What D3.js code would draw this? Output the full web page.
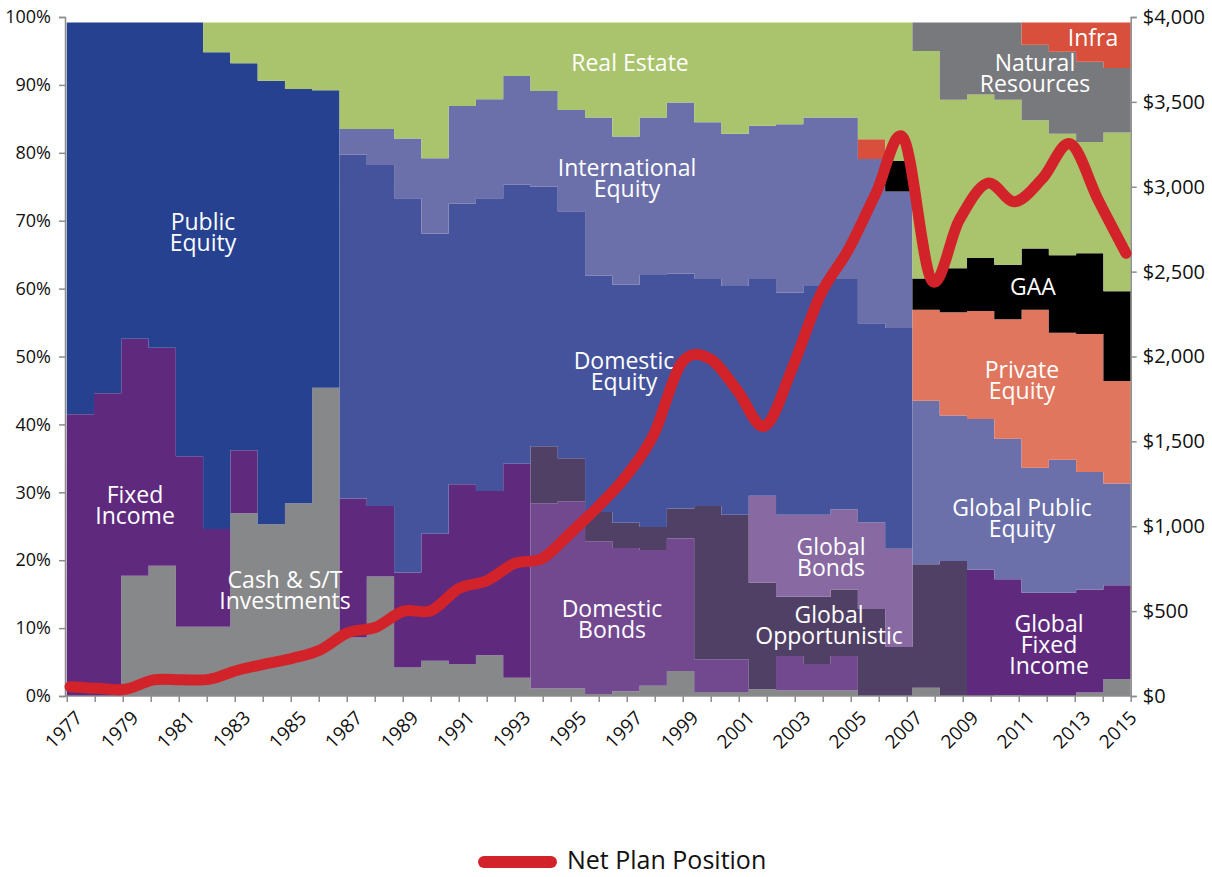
<!DOCTYPE html>
<html><head><meta charset="utf-8">
<script src="https://cdn.jsdelivr.net/npm/d3@7"></script>
<style>
body{margin:0;background:#fff}
svg{display:block}
text{font-family:"Open Sans",sans-serif}
</style>
</head><body>
<svg id="chart" width="1212" height="877"></svg>
<script>
// ---- data ----
const years = [1977,1978,1979,1980,1981,1982,1983,1984,1985,1986,1987,1988,1989,1990,1991,1992,1993,1994,1995,1996,1997,1998,1999,2000,2001,2002,2003,2004,2005,2006,2007,2008,2009,2010,2011,2012,2013,2014,2015];
const tickLabels = ["1977","1979","1981","1983","1985","1987","1989","1991","1993","1995","1997","1999","2001","2003","2005","2007","2009","2011","2013","2015"];

const cash            = [0,0,17.7,19.2,10.2,10.2,26.9,25.3,28.4,45.4, 8.6,17.6,4.2,5.2,4.7,6.0,2.7,1.1,1.1,0.3,0.7,1.5,3.7,0.6,0.6,1.0,0.8,0.8,0.8,0,0, 1.2,0,0,0.1,0,0,0.5,2.5];
const fixedIncome     = [41.5,44.6,34.9,32.1,25.1,14.4,9.3,0,0,0, 20.5,10.4,14.0,18.7,26.5,24.2,31.5,0,0,0,0,0,0,0,0,0,0,0,0,0,0, 0,0,18.6,17.1,15.2,15.2,15.2,13.8];
const domesticBonds   = [0,0,0,0,0,0,0,0,0,0, 0,0,0,0,0,0,0,27.3,27.6,22.5,21.1,20.0,19.5,4.8,4.8,0,5.1,3.9,5.1,0,0, 0,0,0,0,0,0,0,0];
const globalOpp       = [0,0,0,0,0,0,0,0,0,0, 0,0,0,0,0,0,0,8.4,6.3,4.3,3.7,3.4,4.4,22.6,21.3,15.7,8.7,9.9,9.8,12.8,7.2, 18.2,19.9,0,0,0,0,0,0];
const globalBonds     = [0,0,0,0,0,0,0,0,0,0, 0,0,0,0,0,0,0,0,0,0,0,0,0,0,0,12.8,12.1,12.1,11.8,12.8,14.5, 0,0,0,0,0,0,0,0];
const publicEquity    = [57.7,54.6,46.6,47.9,63.9,70.2,57.0,65.3,61.0,43.8, 0,0,0,0,0,0,0,0,0,0,0,0,0,0,0,0,0,0,0,0,0, 0,0,0,0,0,0,0,0];
const domesticEquity  = [0,0,0,0,0,0,0,0,0,0, 50.6,50.2,55.1,44.2,41.3,43.1,41.1,38.2,36.4,34.8,35.1,37.1,34.6,33.4,33.7,31.9,32.7,33.7,33.9,29.3,32.5, 0,0,0,0,0,0,0,0];
const intlEquity      = [0,0,0,0,0,0,0,0,0,0, 3.8,5.3,8.8,11.1,14.4,14.6,16.0,14.1,14.9,23.3,21.8,23.2,25.2,23.1,22.4,22.6,24.8,24.8,23.8,24.2,20.1, 24.1,21.4,22.2,20.7,18.4,19.6,17.3,15.0];
const privateEquity   = [0,0,0,0,0,0,0,0,0,0, 0,0,0,0,0,0,0,0,0,0,0,0,0,0,0,0,0,0,0,0,0, 13.4,15.2,15.9,17.6,23.3,18.7,20.3,15.1];
const gaa             = [0,0,0,0,0,0,0,0,0,0, 0,0,0,0,0,0,0,0,0,0,0,0,0,0,0,0,0,0,0,0,4.5, 4.6,6.5,7.8,8.0,9.0,11.4,11.9,13.2];
const infraEarly      = [0,0,0,0,0,0,0,0,0,0, 0,0,0,0,0,0,0,0,0,0,0,0,0,0,0,0,0,0,0,2.9,0, 0,0,0,0,0,0,0,0];
const realEstate      = [0,0,0,0,0,4.4,6.0,8.6,9.8,10.0, 15.7,15.7,17.1,20.0,12.3,11.3,7.9,10.1,12.9,14.0,16.8,14.0,11.8,14.7,16.4,15.2,15.0,14.0,14.0,17.2,20.4, 33.5,24.8,24.1,24.3,18.9,17.9,16.4,23.4];
const naturalResources= [0,0,0,0,0,0,0,0,0,0, 0,0,0,0,0,0,0,0,0,0,0,0,0,0,0,0,0,0,0,0,0, 4.2,11.4,10.6,11.4,11.1,12.1,11.8,9.5];
const infra           = [0,0,0,0,0,0,0,0,0,0, 0,0,0,0,0,0,0,0,0,0,0,0,0,0,0,0,0,0,0,0,0, 0,0,0,0,3.3,4.3,5.8,6.7];

const netPlanPosition = [55,45,40,95,96,98,150,188,222,271,373,405,500,503,634,679,781,811,958,1115,1292,1538,1960,1989,1803,1590,1935,2362,2627,2961,3285,2450,2804,3020,2912,3050,3252,2922,2608];

const seriesKeys = ["cash","fixedIncome","domesticBonds","globalOpp","globalBonds","publicEquity","domesticEquity","intlEquity","privateEquity","gaa","infraEarly","realEstate","naturalResources","infra"];
const seriesData = {cash,fixedIncome,domesticBonds,globalOpp,globalBonds,publicEquity,domesticEquity,intlEquity,privateEquity,gaa,infraEarly,realEstate,naturalResources,infra};
const colors = {cash:"#87888a",fixedIncome:"#5f2a7e",domesticBonds:"#72488f",globalOpp:"#514066",globalBonds:"#8869a2",publicEquity:"#25418f",domesticEquity:"#44539b",intlEquity:"#6b70aa",privateEquity:"#e0765e",gaa:"#000000",infraEarly:"#d84f3b",realEstate:"#aac36d",naturalResources:"#78797d",infra:"#d84f3b"};

const labels = [
  {t:["Public","Equity"], x:203, y:230},
  {t:["Fixed","Income"], x:135, y:503},
  {t:["Cash & S/T","Investments"], x:285, y:588},
  {t:["Real Estate"], x:630, y:71},
  {t:["International","Equity"], x:627, y:176},
  {t:["Domestic","Equity"], x:624, y:369},
  {t:["Domestic","Bonds"], x:612, y:617},
  {t:["Global","Bonds"], x:831, y:555},
  {t:["Global","Opportunistic"], x:829, y:623},
  {t:["Global Public","Equity"], x:1022, y:516},
  {t:["Global","Fixed","Income"], x:1049, y:632},
  {t:["Private","Equity"], x:1022, y:378},
  {t:["GAA"], x:1033, y:295},
  {t:["Natural","Resources"], x:1035, y:71},
  {t:["Infra"], x:1093, y:46}
];

// ---- scales ----
const svg = d3.select("#chart");
const x0 = 66.7, x1 = 1130.7;
const xBand = d3.scaleBand().domain(years).range([x0, x1]).padding(0);
const xTick = d3.scalePoint().domain(years).range([x0, x1]);
const xLine = d3.scalePoint().domain(years).range([70, 1126]);
const y = d3.scaleLinear().domain([0, 100]).range([696, 17]);
const yR = d3.scaleLinear().domain([0, 4000]).range([696, 17]);

// ---- stack ----
const table = years.map((yr, i) => {
  const row = {year: yr};
  seriesKeys.forEach(k => row[k] = seriesData[k][i]);
  return row;
});
const stacked = d3.stack().keys(seriesKeys)(table);

const g = svg.append("g");
stacked.forEach(s => {
  const pts = s.map((d, i) => ({x: xBand(years[i]), y0: d[0], y1: d[1]}));
  const last = s[s.length - 1];
  pts.push({x: x1, y0: last[0], y1: last[1]});
  const area = d3.area().x(d => d.x).y0(d => y(d.y0)).y1(d => y(d.y1)).curve(d3.curveStepAfter);
  g.append("path").attr("d", area(pts)).attr("fill", colors[s.key]).attr("stroke", "none");
});

// ---- axes ----
const axisColor = "#8c8c8c";
const left = svg.append("g").attr("transform", "translate(65,0)")
  .call(d3.axisLeft(y).tickValues(d3.range(0, 101, 10)).tickFormat(d => d + "%").tickSize(6).tickPadding(8));
const right = svg.append("g").attr("transform", `translate(${x1},0)`)
  .call(d3.axisRight(yR).tickValues(d3.range(0, 4001, 500)).tickFormat(d => "$" + d3.format(",")(d)).tickSize(6).tickPadding(6));
const bottom = svg.append("g").attr("transform", "translate(0,696)")
  .call(d3.axisBottom(xTick).tickSize(6).tickFormat(""));
[left, right, bottom].forEach(a => {
  a.selectAll("path,line").attr("stroke", axisColor).attr("stroke-width", 1.5);
  a.selectAll("text").attr("fill", "#111");
});
left.selectAll("text").style("font-size", "18px");
right.selectAll("text").style("font-size", "20px");
bottom.select(".domain").attr("d", `M65,0H${x1}`);

svg.append("g").selectAll("text").data(tickLabels).join("text")
  .attr("transform", d => `translate(${Math.min(xTick(+d) + 17, 1138)},719) rotate(-45)`)
  .attr("text-anchor", "end")
  .style("font-size", "19px")
  .attr("fill", "#111")
  .text(d => d);

// ---- in-chart labels ----
const lg = svg.append("g");
labels.forEach(l => {
  l.t.forEach((line, i) => lg.append("text").attr("x", l.x).attr("y", l.y + i * 21).attr("text-anchor", "middle")
    .attr("fill", "#fff").style("font-size", "23px").text(line));
});

// ---- line ----
const line = d3.line().x((d, i) => xLine(years[i])).y(d => yR(d)).curve(d3.curveCatmullRom.alpha(0));
svg.append("path").attr("d", line(netPlanPosition)).attr("fill", "none")
  .attr("stroke", "#d2232a").attr("stroke-width", 11).attr("stroke-linecap", "round").attr("stroke-linejoin", "round");

// ---- legend ----
svg.append("line").attr("x1", 484).attr("x2", 551).attr("y1", 862).attr("y2", 862)
  .attr("stroke", "#d2232a").attr("stroke-width", 12).attr("stroke-linecap", "round");
svg.append("text").attr("x", 567).attr("y", 869).style("font-size", "25px").attr("fill", "#111").text("Net Plan Position");
</script>
</body></html>
